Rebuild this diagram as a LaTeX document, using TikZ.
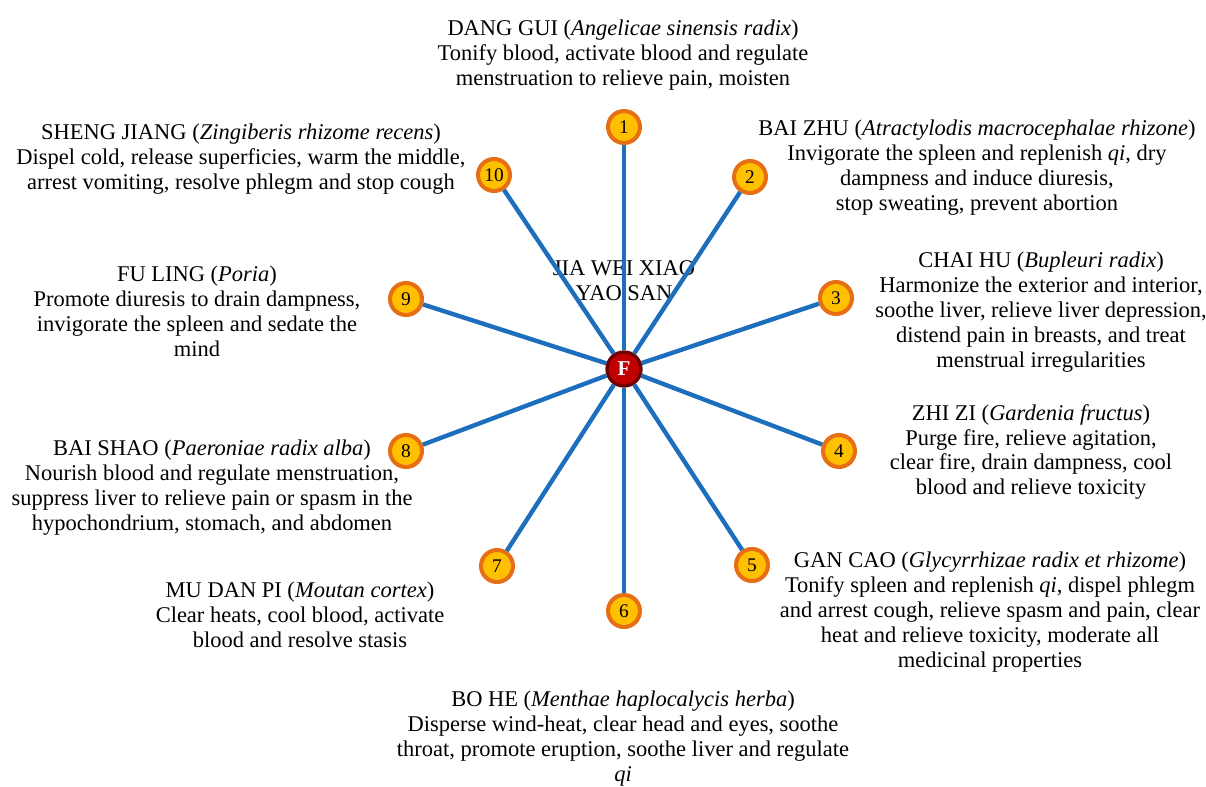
\documentclass[tikz,border=0pt]{standalone}
\usepackage{fontspec}
\setmainfont{Liberation Serif}

\definecolor{spokeblue}{RGB}{30,110,190}
\definecolor{herbfill}{RGB}{255,192,0}
\definecolor{herbdraw}{RGB}{230,110,20}
\definecolor{hubfill}{RGB}{192,0,0}
\definecolor{hubdraw}{RGB}{110,0,0}

\begin{document}
\begin{tikzpicture}[x=0.02cm, y=-0.02cm,
  every node/.style={font=\fontsize{12.8}{14.2}\selectfont},
  herb/.style={circle, draw=herbdraw, fill=herbfill, line width=2.3pt, minimum size=0.64cm, inner sep=0pt, font=\fontsize{11}{12}\selectfont},
  hub/.style={circle, draw=hubdraw, fill=hubfill, line width=1.9pt, minimum size=0.68cm, inner sep=0pt, text=white, font=\fontsize{12}{13}\selectfont\bfseries},
  spoke/.style={draw=spokeblue, line width=2.5pt},
  note/.style={align=center, inner sep=0pt}]
  \useasboundingbox (0,0) rectangle (1206,787);

  % Formula in the middle
  \node[hub] (F) at (624,369) {F};
  \node[note] (formula) at (624,281) {JIA WEI XIAO\\YAO SAN};

  % Herbs round the formula
  \node[herb] (n1) at (624,127) {1};
  \node[herb] (n2) at (750,177) {2};
  \node[herb] (n3) at (836,298) {3};
  \node[herb] (n4) at (839,451) {4};
  \node[herb] (n5) at (752,565) {5};
  \node[herb] (n6) at (624,611) {6};
  \node[herb] (n7) at (497,566) {7};
  \node[herb] (n8) at (406,451) {8};
  \node[herb] (n9) at (406,299) {9};
  \node[herb] (n10) at (494,175) {10};

  % Spokes
  \draw[spoke] (F) -- (n1);
  \draw[spoke] (F) -- (n2);
  \draw[spoke] (F) -- (n3);
  \draw[spoke] (F) -- (n4);
  \draw[spoke] (F) -- (n5);
  \draw[spoke] (F) -- (n6);
  \draw[spoke] (F) -- (n7);
  \draw[spoke] (F) -- (n8);
  \draw[spoke] (F) -- (n9);
  \draw[spoke] (F) -- (n10);

  % Herb descriptions
  \node[note] (t1) at (623,55) {DANG GUI (\textit{Angelicae sinensis radix})\\Tonify blood, activate blood and regulate\\menstruation to relieve pain, moisten};
  \node[note] (t2) at (977,168) {BAI ZHU (\textit{Atractylodis macrocephalae rhizone})\\Invigorate the spleen and replenish \textit{qi}, dry\\dampness and induce diuresis,\\stop sweating, prevent abortion};
  \node[note] (t3) at (1041,312) {CHAI HU (\textit{Bupleuri radix})\\Harmonize the exterior and interior,\\soothe liver, relieve liver depression,\\distend pain in breasts, and treat\\menstrual irregularities};
  \node[note] (t4) at (1031,452) {ZHI ZI (\textit{Gardenia fructus})\\Purge fire, relieve agitation,\\clear fire, drain dampness, cool\\blood and relieve toxicity};
  \node[note] (t5) at (990,612) {GAN CAO (\textit{Glycyrrhizae radix et rhizome})\\Tonify spleen and replenish \textit{qi}, dispel phlegm\\and arrest cough, relieve spasm and pain, clear\\heat and relieve toxicity, moderate all\\medicinal properties};
  \node[note] (t6) at (623,739) {BO HE (\textit{Menthae haplocalycis herba})\\Disperse wind-heat, clear head and eyes, soothe\\throat, promote eruption, soothe liver and regulate\\\textit{qi}};
  \node[note] (t7) at (300,615) {MU DAN PI (\textit{Moutan cortex})\\Clear heats, cool blood, activate\\blood and resolve stasis};
  \node[note] (t8) at (212,488) {BAI SHAO (\textit{Paeroniae radix alba})\\Nourish blood and regulate menstruation,\\suppress liver to relieve pain or spasm in the\\hypochondrium, stomach, and abdomen};
  \node[note] (t9) at (197,311) {FU LING (\textit{Poria})\\Promote diuresis to drain dampness,\\invigorate the spleen and sedate the\\mind};
  \node[note] (t10) at (241,159) {SHENG JIANG (\textit{Zingiberis rhizome recens})\\Dispel cold, release superficies, warm the middle,\\arrest vomiting, resolve phlegm and stop cough};

\end{tikzpicture}
\end{document}
